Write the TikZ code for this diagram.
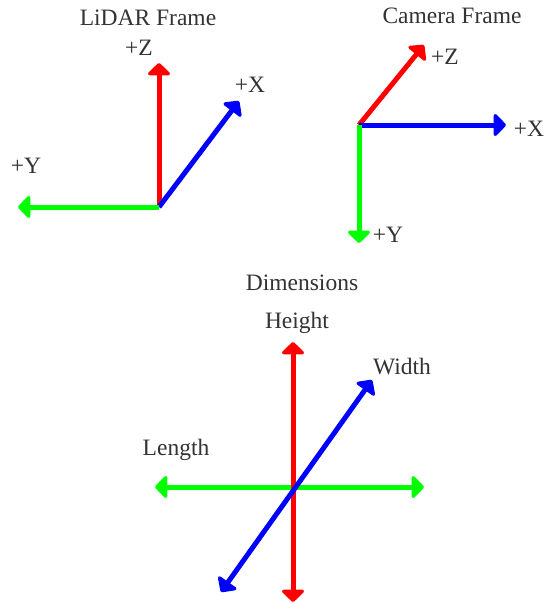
\documentclass[tikz,border=0pt]{standalone}
\usepackage{fontspec}
\setmainfont{Liberation Serif}
\usetikzlibrary{arrows.meta}
\definecolor{axred}{RGB}{255,0,0}
\definecolor{axgreen}{RGB}{0,255,0}
\definecolor{axblue}{RGB}{0,0,255}
\tikzset{tiphead/.tip={Triangle[width=26pt,length=13pt,round]}}
\begin{document}
\begin{tikzpicture}[x=1pt,y=-1pt,
  axis/.style={line width=5pt,-tiphead},
  daxis/.style={line width=5pt,tiphead-tiphead},
  lbl/.style={font=\fontsize{23.5}{26}\selectfont, text=black!80, inner sep=0pt}]
\useasboundingbox[fill=white] (0,0) rectangle (544,603);
% LiDAR frame
\node[lbl] (lt) at (148,18) {LiDAR Frame};
\coordinate (lo) at (159,207);
\coordinate (lz) at (159,63);
\coordinate (lx) at (239,101);
\coordinate (ly) at (18,207);
\draw[axis,axred] (lo) -- (lz);
\draw[axis,axblue] (lo) -- (lx);
\draw[axis,axgreen] (lo) -- (ly);
\node[lbl] (lzl) at (139,48) {+Z};
\node[lbl] (lxl) at (250,85) {+X};
\node[lbl] (lyl) at (26,166) {+Y};
% Camera frame
\node[lbl] (ct) at (452,16) {Camera Frame};
\coordinate (co) at (359,125);
\coordinate (cz) at (424,45);
\coordinate (cx) at (506,125);
\coordinate (cy) at (359,243);
\draw[axis,axred] (co) -- (cz);
\draw[axis,axblue] (co) -- (cx);
\draw[axis,axgreen] (co) -- (cy);
\node[lbl] (czl) at (445,57) {+Z};
\node[lbl] (cxl) at (529,129) {+X};
\node[lbl] (cyl) at (388,235) {+Y};
% Dimensions
\node[lbl] (dt) at (302,283) {Dimensions};
\coordinate (h1) at (293,342);
\coordinate (h2) at (293,602);
\coordinate (w1) at (372,380);
\coordinate (w2) at (221,592);
\coordinate (l1) at (155,487);
\coordinate (l2) at (424,487);
\draw[daxis,axgreen] (l1) -- (l2);
\draw[daxis,axred] (h1) -- (h2);
\draw[daxis,axblue] (w2) -- (w1);
\node[lbl] (hl) at (297,323) {Height};
\node[lbl] (wl) at (402,367) {Width};
\node[lbl] (ll) at (176,450) {Length};
\end{tikzpicture}
\end{document}
